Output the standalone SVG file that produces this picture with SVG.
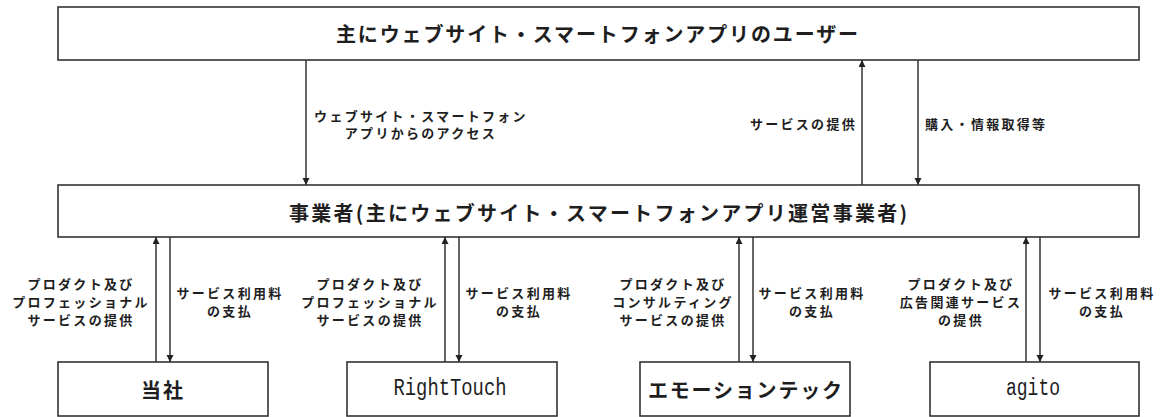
<svg xmlns="http://www.w3.org/2000/svg" width="1162" height="417" viewBox="0 0 1162 417">
<style>
.box{fill:#fff;stroke:#333;stroke-width:1.6}
.jp{font-family:"Noto Sans CJK JP","Noto Sans",sans-serif;font-weight:bold;fill:#1e1e1e}
.big{font-size:20px}
.lab{font-size:13px;letter-spacing:2.3px}
.mono{font-family:"Liberation Mono","DejaVu Sans Mono",monospace;font-size:23px;fill:#1e1e1e}
.ln{stroke:#333;stroke-width:1.5;fill:none;marker-end:url(#ah)}
text{dominant-baseline:central}
</style>
<defs>
<marker id="ah" markerUnits="userSpaceOnUse" markerWidth="8" markerHeight="8" refX="7" refY="3.5" orient="auto">
<path d="M0,0 L7,3.5 L0,7 z" fill="#222"/>
</marker>
</defs>
<g id="users">
<rect class="box" x="58" y="7" width="1081" height="53"/>
<text class="jp big" x="597" y="33" text-anchor="middle" textLength="522" lengthAdjust="spacing">主にウェブサイト・スマートフォンアプリのユーザー</text>
</g>
<g id="operators">
<rect class="box" x="58" y="185" width="1081" height="52"/>
<text class="jp big" x="598" y="212" text-anchor="middle" textLength="618" lengthAdjust="spacing">事業者(主にウェブサイト・スマートフォンアプリ運営事業者)</text>
</g>
<g id="tousha">
<rect class="box" x="58" y="362" width="210" height="54"/>
<text class="jp big" x="163" y="389" text-anchor="middle" letter-spacing="2">当社</text>
</g>
<g id="righttouch">
<rect class="box" x="347" y="362" width="210" height="54"/>
<text class="mono" x="450" y="389" text-anchor="middle" textLength="113" lengthAdjust="spacingAndGlyphs">RightTouch</text>
</g>
<g id="emotiontech">
<rect class="box" x="640" y="362" width="210" height="54"/>
<text class="jp big" x="745" y="389" text-anchor="middle" textLength="194" lengthAdjust="spacing">エモーションテック</text>
</g>
<g id="agito">
<rect class="box" x="930" y="362" width="209" height="54"/>
<text class="mono" x="1033" y="389" text-anchor="middle" textLength="54" lengthAdjust="spacingAndGlyphs">agito</text>
</g>
<g id="connectors">
<line class="ln" x1="306" y1="60" x2="306" y2="185"/>
<line class="ln" x1="862" y1="185" x2="862" y2="60"/>
<line class="ln" x1="918" y1="60" x2="918" y2="185"/>
<line class="ln" x1="156" y1="362" x2="156" y2="237"/>
<line class="ln" x1="170" y1="237" x2="170" y2="362"/>
<line class="ln" x1="445" y1="362" x2="445" y2="237"/>
<line class="ln" x1="459" y1="237" x2="459" y2="362"/>
<line class="ln" x1="739" y1="362" x2="739" y2="237"/>
<line class="ln" x1="753" y1="237" x2="753" y2="362"/>
<line class="ln" x1="1026" y1="362" x2="1026" y2="237"/>
<line class="ln" x1="1040" y1="237" x2="1040" y2="362"/>
</g>
<g id="labels">
<text class="jp lab" x="421" y="115" text-anchor="middle">ウェブサイト・スマートフォン</text>
<text class="jp lab" x="421" y="132" text-anchor="middle">アプリからのアクセス</text>
<text class="jp lab" x="857" y="123" text-anchor="end">サービスの提供</text>
<text class="jp lab" x="925" y="123">購入・情報取得等</text>
<text class="jp lab" x="81" y="283" text-anchor="middle">プロダクト及び</text>
<text class="jp lab" x="81" y="301" text-anchor="middle">プロフェッショナル</text>
<text class="jp lab" x="81" y="319" text-anchor="middle">サービスの提供</text>
<text class="jp lab" x="230" y="292" text-anchor="middle">サービス利用料</text>
<text class="jp lab" x="230" y="310" text-anchor="middle">の支払</text>
<text class="jp lab" x="370" y="283" text-anchor="middle">プロダクト及び</text>
<text class="jp lab" x="370" y="301" text-anchor="middle">プロフェッショナル</text>
<text class="jp lab" x="370" y="319" text-anchor="middle">サービスの提供</text>
<text class="jp lab" x="519" y="292" text-anchor="middle">サービス利用料</text>
<text class="jp lab" x="519" y="310" text-anchor="middle">の支払</text>
<text class="jp lab" x="673" y="283" text-anchor="middle">プロダクト及び</text>
<text class="jp lab" x="673" y="301" text-anchor="middle">コンサルティング</text>
<text class="jp lab" x="673" y="319" text-anchor="middle">サービスの提供</text>
<text class="jp lab" x="812" y="292" text-anchor="middle">サービス利用料</text>
<text class="jp lab" x="812" y="310" text-anchor="middle">の支払</text>
<text class="jp lab" x="961" y="283" text-anchor="middle">プロダクト及び</text>
<text class="jp lab" x="961" y="301" text-anchor="middle">広告関連サービス</text>
<text class="jp lab" x="961" y="319" text-anchor="middle">の提供</text>
<text class="jp lab" x="1102" y="292" text-anchor="middle">サービス利用料</text>
<text class="jp lab" x="1102" y="310" text-anchor="middle">の支払</text>
</g>
</svg>
